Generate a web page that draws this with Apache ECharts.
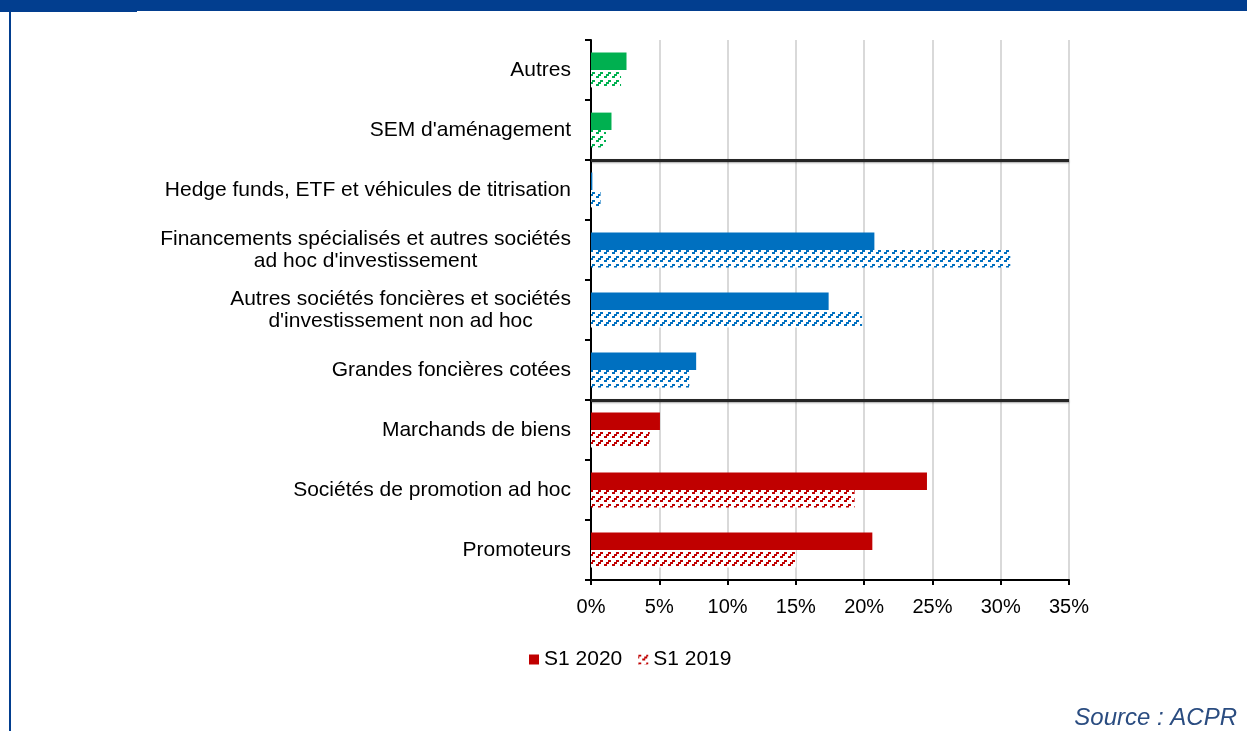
<!DOCTYPE html>
<html>
<head>
<meta charset="utf-8">
<script src="https://cdn.jsdelivr.net/npm/echarts@6/dist/echarts.min.js"></script>
<style>
  html, body { margin: 0; padding: 0; background: #fff; }
  #chart { width: 1247px; height: 731px; }
</style>
</head>
<body>
<div id="chart"></div>
<script>
// categories listed bottom to top
var categories = [
  'Promoteurs',
  'Sociétés de promotion ad hoc',
  'Marchands de biens',
  'Grandes foncières cotées',
  "Autres sociétés foncières et sociétés\nd'investissement non ad hoc",
  "Financements spécialisés et autres sociétés\nad hoc d'investissement",
  'Hedge funds, ETF et véhicules de titrisation',
  "SEM d'aménagement",
  'Autres'
]
var s2020 = [20.6, 24.6, 5.05, 7.7, 17.4, 20.75, 0.1, 1.5, 2.6]
var s2019 = [15.0, 19.3, 4.3, 7.2, 19.85, 30.7, 0.7, 1.1, 2.2]
var groupOf = ['red', 'red', 'red', 'blue', 'blue', 'blue', 'blue', 'green', 'green']
var groupBreaks = [3, 7]
var xTicks = [0, 5, 10, 15, 20, 25, 30, 35]
var seriesNames = ['S1 2020', 'S1 2019']

var palette = { red: '#C00000', blue: '#0070C0', green: '#00B050' }

// dashed upward diagonal hatch (8px tile, 3 blocks on / 1 off along each line)
function makeHatch (color) {
  var c = document.createElement('canvas')
  c.width = 8
  c.height = 8
  var ctx = c.getContext('2d')
  ctx.fillStyle = '#fff'
  ctx.fillRect(0, 0, 8, 8)
  ctx.fillStyle = color
  for (var j = 0; j < 3; j++) {
    var x = ((4 - j) % 4) * 2
    ctx.fillRect(x, j * 2, 3, 2)
    ctx.fillRect(x - 8, j * 2, 3, 2)
  }
  return { image: c, repeat: 'repeat' }
}

var hatches = {
  red: makeHatch(palette.red),
  blue: makeHatch(palette.blue),
  green: makeHatch(palette.green)
}

var font = 'Liberation Sans, Arial, sans-serif'

var chart = echarts.init(document.getElementById('chart'))
var option = {
  animation: false,
  backgroundColor: '#fff',
  textStyle: { fontFamily: font },
  grid: { left: 591, right: 178, top: 40, bottom: 151 },
  legend: {
    data: seriesNames,
    icon: 'rect',
    left: 524,
    top: 644,
    itemWidth: 10,
    itemHeight: 10,
    itemGap: 16,
    textStyle: { fontSize: 21, color: '#000', fontFamily: font }
  },
  xAxis: {
    type: 'value',
    min: 0,
    max: 35,
    interval: 5,
    axisLine: { show: true, lineStyle: { color: '#000', width: 2 } },
    axisTick: { show: true, length: 5, lineStyle: { color: '#000', width: 2 } },
    axisLabel: { formatter: '{value}%', fontSize: 20, color: '#000', margin: 17 },
    splitLine: { show: true, lineStyle: { color: '#D9D9D9', width: 2 } }
  },
  yAxis: [
    {
      type: 'category',
      data: categories,
      axisLine: { show: true, lineStyle: { color: '#000', width: 2 } },
      axisTick: { show: true, length: 6, lineStyle: { color: '#000', width: 2 } },
      axisLabel: {
        margin: 20,
        formatter: function (v) {
          return v.split('\n').map(function (s) { return '{c|' + s + '}' }).join('\n')
        },
        rich: {
          c: { align: 'center', fontSize: 21, lineHeight: 22, color: '#000', fontFamily: font }
        }
      },
      splitLine: { show: false }
    },
    {
      type: 'value',
      min: 0,
      max: categories.length,
      show: false
    }
  ],
  series: [
    {
      name: seriesNames[0],
      type: 'bar',
      barGap: '0%',
      barCategoryGap: '42%',
      itemStyle: { color: palette.red },
      data: s2020.map(function (v, i) {
        return { value: v, itemStyle: { color: palette[groupOf[i]] } }
      })
    },
    {
      name: seriesNames[1],
      type: 'bar',
      barGap: '0%',
      barCategoryGap: '42%',
      itemStyle: { color: hatches.red },
      data: s2019.map(function (v, i) {
        return { value: v, itemStyle: { color: hatches[groupOf[i]] } }
      })
    },
    {
      name: 'separateurs',
      type: 'line',
      yAxisIndex: 1,
      data: [],
      silent: true,
      markLine: {
        silent: true,
        symbol: 'none',
        label: { show: false },
        lineStyle: { color: '#262626', width: 3, type: 'solid', shadowColor: 'rgba(0,0,0,0.35)', shadowBlur: 2, shadowOffsetY: 1 },
        data: groupBreaks.map(function (b) {
          return [{ coord: [xTicks[0], b] }, { coord: [xTicks[xTicks.length - 1], b] }]
        })
      }
    }
  ],
  graphic: [
    { type: 'rect', left: 0, top: 0, shape: { width: 1247, height: 11 }, style: { fill: '#023E8F' } },
    { type: 'rect', left: 0, top: 0, shape: { width: 137, height: 12 }, style: { fill: '#023E8F' } },
    { type: 'rect', left: 9, top: 0, shape: { width: 2, height: 731 }, style: { fill: '#023E8F' } },
    {
      type: 'text',
      right: 10,
      bottom: 1,
      style: { text: 'Source : ACPR', font: 'italic 24px Liberation Sans, Arial, sans-serif', fill: '#2A4C80' }
    }
  ]
}
chart.setOption(option)
</script>
</body>
</html>
